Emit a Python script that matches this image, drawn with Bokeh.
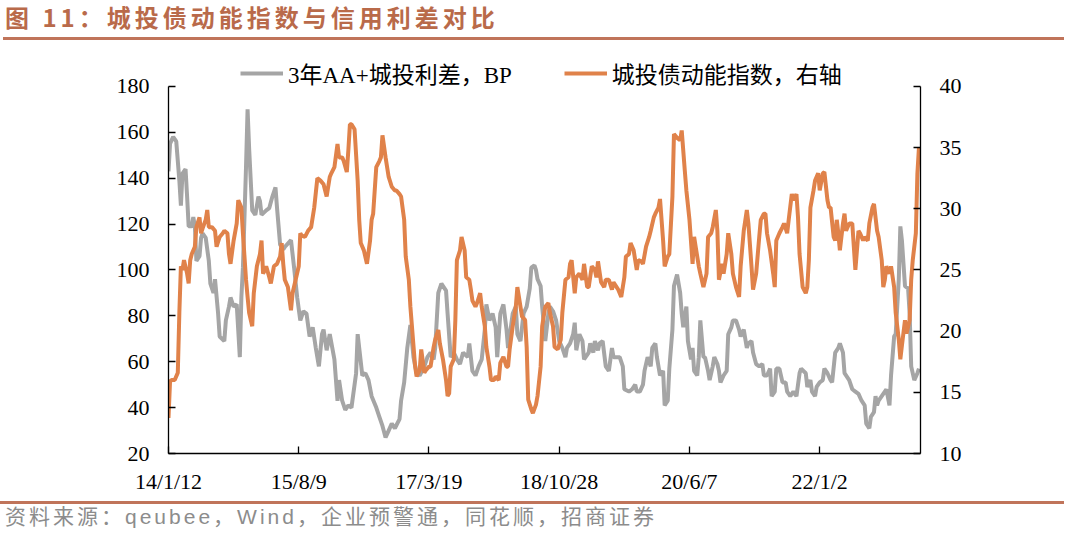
from bokeh.plotting import figure
from bokeh.layouts import column
from bokeh.models import Range1d, LinearAxis, FixedTicker, Legend, LegendItem, Div
from bokeh.embed import file_html
from bokeh.resources import INLINE

# ---------------- data (x = week index since 2014-01-12 on the category axis) ----------------
tick_weeks = [0, 84, 168, 252, 336, 420]
tick_labels = ["14/1/12", "15/8/9", "17/3/19", "18/10/28", "20/6/7", "22/1/2"]

spread_week = [
    0, 1, 3, 5, 7, 8, 9, 11, 12, 13, 15, 16, 17, 18, 20, 21, 22, 24, 26, 27, 29, 30, 32, 33,
    36, 37, 39, 40, 42, 44, 46, 47, 48, 50, 51, 52, 54, 56, 58, 59, 60, 63, 65, 67, 69, 70, 72, 74,
    75, 79, 81, 83, 85, 87, 89, 91, 93, 95, 97, 99, 100, 102, 104, 107, 108, 109, 110, 112, 114, 116,
    118, 121, 122, 123, 125, 127, 129, 131, 134, 136, 138, 140, 142, 144, 146, 149, 150, 152, 154,
    156, 158, 160, 162, 165, 167, 169, 171, 172, 174, 176, 179, 180, 182, 184, 186, 188, 190, 193,
    194, 196, 198, 200, 202, 204, 205, 207, 209, 211, 212, 214, 216, 218, 219, 222, 224, 225, 227,
    229, 231, 233, 234, 236,
    237, 238, 240, 241, 243, 245, 246, 248, 250, 252, 254, 256, 257, 259, 261, 262, 263, 265, 267,
    268, 271, 272, 274, 275, 277, 278, 280, 282, 284, 286, 287, 289, 291, 293, 294, 297, 299, 301,
    302, 304, 306, 307, 309, 311, 312, 314, 315,
    317, 319, 320, 322, 323, 325, 326, 328, 330, 331, 332, 334, 335, 337, 338, 339, 341, 342, 343,
    345, 346, 348, 349, 351, 352, 354, 355, 356, 358, 360, 361, 363, 364, 366, 368, 369, 371, 373,
    374, 376, 377, 379, 381, 383, 384, 386, 388, 389, 391, 392, 394, 396, 397,
    398, 399, 401, 403, 405, 407, 408, 411, 412, 414, 415, 417, 418, 420, 422, 423, 425, 427, 428,
    430, 432, 433, 435, 436, 439, 441, 443, 445, 447, 449, 450, 452, 453, 455, 456, 457, 458, 460,
    462, 463, 465, 466, 468, 469, 471, 472, 473, 475, 477, 478, 479, 481, 483, 484,
]
spread_bp = [
    143, 155, 158, 156, 139, 128, 142, 144, 132, 119, 119, 123, 119, 104, 106, 114, 116, 114, 104, 94, 90, 96, 81, 71,
    69, 78, 84, 88, 84, 85, 62, 88, 101, 145, 170, 153, 126, 124, 132, 130, 124, 126, 127, 132, 136, 127, 111, 109,
    110, 113, 101, 88, 78, 82, 81, 71, 75, 66, 58, 72, 74, 65, 72, 61, 52, 43, 52, 43, 39, 41,
    40, 55, 72, 66, 54, 55, 52, 45, 40, 36, 32, 27, 30, 33, 31, 35, 43, 51, 66,
    76, 62, 55, 54, 58, 62, 64, 61, 66, 90, 94, 91, 81, 62, 64, 61, 59, 64, 62,
    68, 56, 54, 58, 61, 74, 85, 78, 81, 75, 62, 81, 85, 74, 66, 81, 84, 72, 69,
    81, 84, 92, 101, 102,
    100, 96, 93, 84, 69, 81, 84, 82, 78, 69, 66, 62, 66, 68, 72, 77, 65, 72, 69,
    61, 64, 68, 64, 69, 65, 68, 69, 58, 56, 66, 62, 62, 62, 58, 48, 47, 48, 50,
    47, 47, 50, 56, 62, 58, 66, 68, 62,
    54, 56, 41, 43, 57, 74, 93, 98, 90, 81, 75, 84, 69, 61, 66, 56, 54, 62, 78,
    62, 62, 56, 52, 58, 62, 59, 56, 51, 54, 56, 72, 75, 78, 78, 74, 71, 74, 66,
    68, 69, 64, 59, 58, 59, 54, 54, 57, 45, 47, 57, 57, 51, 51,
    51, 47, 45, 47, 45, 55, 57, 55, 49, 52, 47, 45, 49, 51, 52, 57, 55, 52, 51,
    64, 66, 68, 64, 55, 52, 48, 47, 46, 43, 41, 33, 31, 36, 38, 45, 41, 43, 45,
    47, 48, 41, 54, 71, 72, 96, 119, 113, 93, 92, 81, 58, 52, 55, 57,
]

index_week = [
    0, 1, 2, 4, 6, 7, 8, 9, 10, 12, 13, 14, 15, 17, 18, 20, 21, 22, 24, 25, 26, 28, 30, 31, 33, 35,
    36, 38, 39, 40, 42, 44, 45, 47, 48, 50, 51, 52, 54, 55, 57, 59, 60, 61, 63, 65, 66, 68, 70, 72,
    73, 74,
    75, 77, 79, 80, 82, 84, 85, 86, 88, 90, 92, 94, 96, 98, 100, 102, 104, 105, 107, 109, 110, 112,
    113, 115, 116, 117, 118, 120, 122, 123, 124, 126, 128, 130, 131, 132, 134, 136, 137, 138, 140,
    142, 144, 146, 147, 149, 150, 152, 153, 155, 156, 157, 159,
    160, 162, 163, 165, 166, 168, 169, 171, 172, 174, 175, 177, 179, 180, 181, 182, 184, 185, 186,
    188, 189, 191, 192, 194, 195, 196, 198, 199, 201, 202, 204, 205, 207, 208, 210, 211, 213, 214,
    216, 218, 219, 220, 222, 224, 225, 226, 228, 230, 231, 232, 234, 235,
    237, 238, 240, 241, 243, 245, 246, 248, 249, 251, 253, 254, 256, 258, 259, 260, 262, 263, 265,
    267, 268, 270, 271, 273, 275, 276, 277, 279, 281, 282, 284, 286, 287, 289, 290, 292, 294, 295,
    297, 298, 300, 302, 303, 305, 306, 308, 310, 311, 313, 314, 316, 317,
    319, 320, 322, 323, 325, 326, 328, 330, 331, 333, 334, 336, 338, 339, 340, 342, 343, 345, 347,
    348, 350, 351, 353, 354, 355, 357, 358, 360, 361, 363, 364, 366, 368, 369, 371, 373, 374, 376,
    377, 379, 381, 382, 384, 385, 386, 388, 390, 391, 392, 394, 396, 397,
    399, 400, 402, 403, 405, 406, 407, 409, 411, 412, 413, 414, 416, 417, 419, 420, 422, 423, 425,
    426, 427, 429, 430, 431, 432, 433, 435, 436, 437, 439, 441, 442, 443, 445, 446, 448, 449, 451,
    452, 454, 455, 457, 458, 460, 461, 462, 463, 465, 466, 468, 469, 471, 472, 473, 475, 476, 478,
    479, 480, 482, 483, 484,
]
index_val = [
    12.9, 15.9, 16.0, 16.0, 16.6, 21.5, 25.3, 25.0, 25.8, 24.7, 23.9, 25.8, 26.3, 26.9, 28.5, 29.3, 28.0, 28.4, 29.1, 29.9, 28.5, 28.5, 28.2, 26.9, 27.7, 28.0,
    28.2, 28.0, 26.3, 25.5, 27.4, 28.8, 30.7, 30.1, 28.0, 24.2, 22.8, 21.5, 20.4, 23.1, 25.3, 26.3, 27.4, 24.7, 25.3, 24.4, 23.9, 25.3, 25.5, 26.1,
    27.2, 25.5,
    24.2, 23.6, 21.7, 23.1, 24.2, 25.3, 28.0, 27.8, 27.7, 28.2, 28.5, 30.1, 32.5, 32.3, 32.0, 31.0, 32.6, 32.9, 33.4, 35.3, 34.2, 34.2,
    33.9, 33.0, 34.8, 36.9, 36.9, 36.5, 32.3, 29.1, 27.2, 26.6, 25.5, 27.4, 29.1, 29.6, 33.4, 33.9, 34.2, 36.0, 34.2,
    32.6, 31.8, 31.5, 31.5, 31.2, 31.0, 29.1, 26.1, 24.2, 22.0, 20.4, 17.2,
    16.3, 16.8, 18.5, 16.6, 16.8, 17.1, 17.1, 18.7, 19.3, 20.1, 19.0, 17.7, 16.0, 14.7, 14.9, 17.1, 17.7, 20.9, 25.8,
    26.6, 27.7, 26.6, 24.4, 24.2, 23.4, 22.5, 22.0, 22.3, 23.1, 22.0, 20.4, 18.7, 17.1, 16.0, 16.0, 16.3, 16.0, 17.4,
    17.9, 17.1, 17.1, 18.5, 20.4, 22.0, 23.6, 22.8, 21.2, 20.9, 18.7, 14.4, 13.6, 13.3,
    14.0, 14.7, 17.1, 20.4, 22.0, 22.3, 21.5, 20.4, 18.7, 18.5, 19.3, 21.5, 24.2, 24.4, 25.5, 25.8, 23.1, 24.4, 24.7,
    24.2, 25.5, 23.6, 23.6, 25.3, 25.0, 24.4, 25.7, 24.0, 23.6, 24.2, 24.2, 23.4, 24.0, 23.6, 23.4, 22.8, 24.4, 26.1,
    26.3, 27.2, 26.6, 25.0, 25.8, 25.7, 25.5, 26.9, 27.7, 28.2, 29.3, 29.6, 30.1, 30.8,
    27.4, 25.3, 26.1, 26.3, 31.0, 36.1, 35.8, 35.6, 36.4, 33.1, 31.5, 29.1, 25.5, 27.7, 26.9, 25.3, 24.7, 23.6, 24.7,
    27.7, 28.0, 28.5, 29.9, 28.2, 24.2, 25.5, 24.7, 26.3, 28.0, 26.3, 24.7, 23.6, 22.8, 25.3, 28.2, 29.9, 28.8, 25.3,
    23.4, 24.7, 27.7, 29.1, 29.6, 29.6, 28.0, 26.6, 24.7, 23.6, 27.4, 28.0, 28.5, 28.8,
    28.0, 29.1, 31.2, 30.7, 31.2, 29.3, 26.3, 23.6, 23.1, 23.6, 25.8, 30.1, 31.5, 32.3, 32.9, 31.5, 32.9, 33.0, 30.7,
    30.1, 30.1, 27.7, 27.4, 29.1, 28.0, 26.6, 28.8, 29.6, 28.2, 28.8, 28.8, 26.9, 25.0, 28.2, 28.0, 27.4, 27.7, 27.4,
    28.8, 30.1, 30.4, 28.2, 27.7, 25.8, 23.6, 24.2, 25.3, 24.7, 25.3, 23.6, 21.5, 19.3, 17.7, 18.8, 20.9, 19.8, 20.9,
    24.2, 25.8, 28.0, 32.9, 35.0,
]
assert len(spread_week) == len(spread_bp), (len(spread_week), len(spread_bp))
assert len(index_week) == len(index_val), (len(index_week), len(index_val))

left_ticks = [20, 40, 60, 80, 100, 120, 140, 160, 180]
right_ticks = [10, 15, 20, 25, 30, 35, 40]

title_text = "图 11：城投债动能指数与信用利差对比"
source_text = "资料来源：qeubee，Wind，企业预警通，同花顺，招商证券"
series_names = ["3年AA+城投利差，BP", "城投债动能指数，右轴"]

GRAY = "#A5A5A5"
ORANGE = "#E0824A"
BROWN_TXT = "#B96A4A"
BROWN_LINE = "#C0745A"
SERIF = "Liberation Serif, Noto Sans CJK SC"

W = 1064
TOP_H, MAIN_H, BOT_H = 44, 452, 33
FL, FR = 168, W - 920          # frame left / right borders
FT, FB = 12, 42                # frame top / bottom borders inside the main figure
PAD = 30                       # px of empty frame above the 180 tick (legend room)
FH = MAIN_H - FT - FB          # 398
AX_H = FH - PAD                # 368 px for 20..180

# ---------------- header (title + rule) ----------------
top = Div(width=W, height=TOP_H, margin=(0, 0, 0, 0), text=(
    f"<div style='position:relative;width:{W}px;height:{TOP_H}px;overflow:hidden;'>"
    f"<div style='position:absolute;left:5px;top:4px;white-space:nowrap;"
    f"font-family:\"Noto Sans CJK SC\",sans-serif;font-weight:bold;font-size:24px;"
    f"line-height:26px;letter-spacing:4px;color:{BROWN_TXT};'>{title_text}</div>"
    f"<div style='position:absolute;left:3px;top:37px;width:{W - 3}px;height:3px;"
    f"background:{BROWN_LINE};'></div></div>"))

# ---------------- main chart ----------------
y_end = 180 + PAD * (180 - 20) / AX_H
y2_end = 40 + PAD * (40 - 10) / AX_H
p = figure(width=W, height=MAIN_H, output_backend="svg", toolbar_location=None,
           x_range=Range1d(0, 485), y_range=Range1d(20, y_end),
           min_border_left=FL, min_border_right=FR, min_border_top=FT, min_border_bottom=FB)
p.extra_y_ranges = {"right": Range1d(10, y2_end)}
p.grid.visible = False
p.outline_line_color = None

right_axis = LinearAxis(y_range_name="right")
p.add_layout(right_axis, "right")

p.xaxis.ticker = FixedTicker(ticks=tick_weeks)
p.xaxis.major_label_overrides = {w: s for w, s in zip(tick_weeks, tick_labels)}
p.yaxis[0].ticker = FixedTicker(ticks=left_ticks)
p.yaxis[0].bounds = (20, 180)
right_axis.ticker = FixedTicker(ticks=right_ticks)
right_axis.bounds = (10, 40)

for ax in [p.xaxis[0], p.yaxis[0], right_axis]:
    ax.axis_line_color = "black"
    ax.axis_line_width = 1.3
    ax.major_tick_line_color = "black"
    ax.major_tick_line_width = 1.3
    ax.major_tick_in = 7
    ax.major_tick_out = 0
    ax.minor_tick_line_color = None
    ax.major_label_text_font = "Liberation Serif"
    ax.major_label_text_font_size = "22px"
    ax.major_label_text_color = "black"
    ax.major_label_standoff = 19
p.xaxis.major_label_standoff = 15

r1 = p.line(spread_week, spread_bp, line_color=GRAY, line_width=4)
r2 = p.line(index_week, index_val, line_color=ORANGE, line_width=4, y_range_name="right")

legend = Legend(items=[LegendItem(label=series_names[0], renderers=[r1]),
                       LegendItem(label=series_names[1], renderers=[r2])],
                orientation="horizontal", location=(72, FH - 35),
                border_line_color=None, background_fill_alpha=0,
                padding=0, margin=0, spacing=52, label_standoff=5,
                glyph_width=43, glyph_height=20, label_height=20,
                label_text_font=SERIF, label_text_font_size="23px", label_text_color="black")
p.add_layout(legend)

# ---------------- footer (rule + source) ----------------
bot = Div(width=W, height=BOT_H, margin=(0, 0, 0, 0), text=(
    f"<div style='position:relative;width:{W}px;height:{BOT_H}px;overflow:hidden;'>"
    f"<div style='position:absolute;left:0px;top:5px;width:{W}px;height:3px;"
    f"background:{BROWN_LINE};'></div>"
    f"<div style='position:absolute;left:5px;top:9px;white-space:nowrap;"
    f"font-family:\"Liberation Sans\",\"Noto Sans CJK SC\",sans-serif;font-size:21px;"
    f"line-height:23px;letter-spacing:3px;color:#8C8C8C;'>{source_text}</div></div>"))

layout = column(top, p, bot, spacing=0)
open("out.html", "w").write(file_html(layout, INLINE))
